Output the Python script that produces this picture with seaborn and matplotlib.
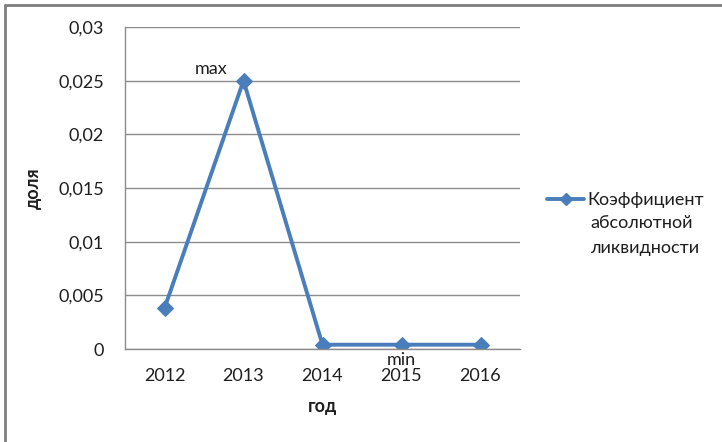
import matplotlib
matplotlib.use("Agg")
import matplotlib.pyplot as plt
import matplotlib.ticker as mticker
from matplotlib.lines import Line2D
import seaborn as sns
import pandas as pd

years = ["2012", "2013", "2014", "2015", "2016"]
values = [0.0038, 0.025, 0.0004, 0.0004, 0.0004]
series_lines = ["Коэффициент", "абсолютной", "ликвидности"]
y_ticks = [0, 0.005, 0.01, 0.015, 0.02, 0.025, 0.03]

sns.set_style("white")
plt.rcParams['font.family'] = ['Lato', 'DejaVu Sans']

df = pd.DataFrame({"год": years, "доля": values})

fig = plt.figure(figsize=(7.22, 4.42), dpi=100)
ax = fig.add_axes([125/722, 1-349/442, 395/722, 322/442])

blue = "#4a7ebb"
grid = "#8c8c8c"
txt = "#1e1e1e"
fs = 13
sns.lineplot(data=df, x="год", y="доля", ax=ax, color=blue, linewidth=2.8,
             marker="D", markersize=8, markeredgecolor=blue, sort=False)

ax.set_xlim(-0.5, len(years)-0.5)
ax.set_ylim(0, 0.03)
ax.set_yticks(y_ticks)
ax.yaxis.set_major_formatter(mticker.FuncFormatter(lambda v, p: "0" if v == 0 else f"{v:g}".replace('.', ',')))
ax.grid(axis="y", color=grid, linewidth=1)
ax.set_axisbelow(True)
ax.set_xticks(range(len(years)))
ax.set_xticklabels(years)
ax.set_xticks([i-0.5 for i in range(len(years)+1)], minor=True)
ax.tick_params(axis="x", which="major", length=0, pad=14, labelsize=fs, labelcolor=txt)
ax.tick_params(axis="x", which="minor", length=6, width=1, color=grid, direction="out")
ax.tick_params(axis="y", which="major", length=6, width=1, color=grid, direction="out", pad=9,
               labelsize=fs, labelcolor=txt)
for s in ["top", "right"]:
    ax.spines[s].set_visible(False)
for s in ["left", "bottom"]:
    ax.spines[s].set_color(grid)
    ax.spines[s].set_linewidth(1)

ax.set_xlabel("год", fontsize=fs, fontweight="bold", labelpad=10, color=txt)
ax.set_ylabel("доля", fontsize=fs, fontweight="bold", labelpad=12, color=txt)

ax.annotate("max", xy=(1, values[1]), xytext=(-32, 12), textcoords="offset pixels",
            ha="center", va="center", fontsize=fs, color=txt)
ax.annotate("min", xy=(3, values[3]), xytext=(0, -15), textcoords="offset pixels",
            ha="center", va="center", fontsize=fs, color=txt)

handle = Line2D([], [], color=blue, linewidth=2.8, marker="D", markersize=6, markeredgecolor=blue)
leg = ax.legend([handle], [series_lines[0]], loc="center left", bbox_to_anchor=(547/722, 1-200/442),
                bbox_transform=fig.transFigure, frameon=False, fontsize=fs, handlelength=2.05,
                handletextpad=0.2, borderaxespad=0, borderpad=0)
for t in leg.get_texts():
    t.set_color(txt)
fig.text(590/722, 1-235.5/442, "\n".join(series_lines[1:]), ha="left", va="center",
         fontsize=fs, color=txt, linespacing=1.75)

fig.add_artist(Line2D([4.5/722, 4.5/722], [0, 1-4.5/442], transform=fig.transFigure, color="#7f7f7f", linewidth=2))
fig.add_artist(Line2D([4.5/722, 1], [1-4.5/442, 1-4.5/442], transform=fig.transFigure, color="#7f7f7f", linewidth=2))

fig.savefig("out.png", dpi=100)
